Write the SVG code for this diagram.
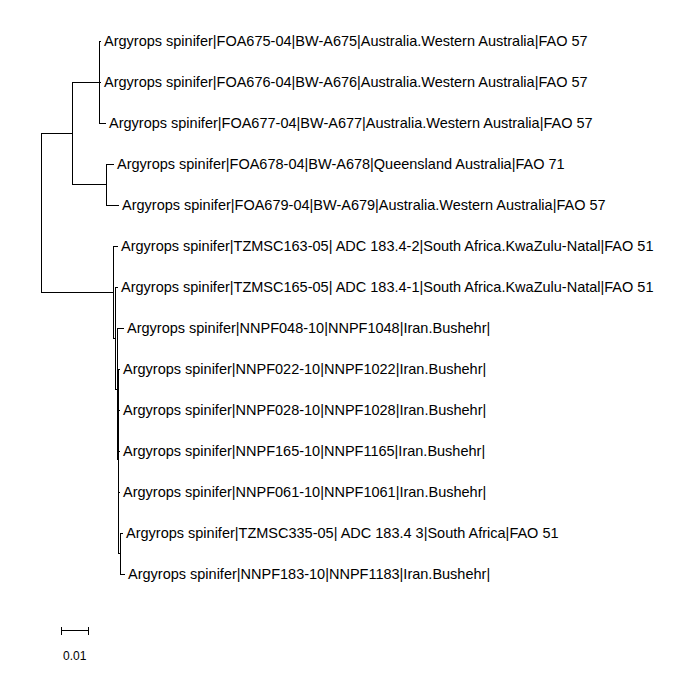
<svg xmlns="http://www.w3.org/2000/svg" width="692" height="696" viewBox="0 0 692 696">
<style>
.t{font-family:"Liberation Sans",Arial,sans-serif;font-size:14.5px;fill:#000}
.s{font-family:"Liberation Sans",Arial,sans-serif;font-size:12px;fill:#000}
.e{stroke:#000;stroke-width:1;fill:none}
</style>
<rect width="692" height="696" fill="#fff"/>
<g id="connectors" class="e">
<path d="M41.5,133.5V292.5M41,133.5H72M41,292.5H113"/>
<path d="M72.5,82.5V184.5M72,82.5H99M72,184.5H106"/>
<path d="M99.5,41.5V123.5M99,41.5H101M99,82.5H101M99,123.5H106"/>
<path d="M106.5,164.5V205.5M106,164.5H114M106,205.5H119"/>
<path d="M113.5,246.5V338.5M113,246.5H118M113,338.5H115"/>
<path d="M115.5,287.5V389.5M115,287.5H118M115,389.5H117"/>
<path d="M117.5,328.5V450.5M117,328.5H124M117,450.5H118"/>
<path d="M118.5,369.5V553.5M118,369.5H120M118,410.5H120M118,451.5H120M118,492.5H120M118,553.5H120"/>
<path d="M117.5,369V460"/>
<path d="M120.5,533.5V574.5M120,533.5H123M120,574.5H125"/>
</g>
<g id="leaf1"><text class="t" x="104" y="46">Argyrops spinifer|FOA675-04|BW-A675|Australia.Western Australia|FAO 57</text></g>
<g id="leaf2"><text class="t" x="104" y="87">Argyrops spinifer|FOA676-04|BW-A676|Australia.Western Australia|FAO 57</text></g>
<g id="leaf3"><text class="t" x="109" y="128">Argyrops spinifer|FOA677-04|BW-A677|Australia.Western Australia|FAO 57</text></g>
<g id="leaf4"><text class="t" x="117" y="169">Argyrops spinifer|FOA678-04|BW-A678|Queensland Australia|FAO 71</text></g>
<g id="leaf5"><text class="t" x="122" y="210">Argyrops spinifer|FOA679-04|BW-A679|Australia.Western Australia|FAO 57</text></g>
<g id="leaf6"><text class="t" x="121" y="251">Argyrops spinifer|TZMSC163-05| ADC 183.4-2|South Africa.KwaZulu-Natal|FAO 51</text></g>
<g id="leaf7"><text class="t" x="121" y="292">Argyrops spinifer|TZMSC165-05| ADC 183.4-1|South Africa.KwaZulu-Natal|FAO 51</text></g>
<g id="leaf8"><text class="t" x="127" y="333">Argyrops spinifer|NNPF048-10|NNPF1048|Iran.Bushehr|</text></g>
<g id="leaf9"><text class="t" x="123" y="374">Argyrops spinifer|NNPF022-10|NNPF1022|Iran.Bushehr|</text></g>
<g id="leaf10"><text class="t" x="123" y="415">Argyrops spinifer|NNPF028-10|NNPF1028|Iran.Bushehr|</text></g>
<g id="leaf11"><text class="t" x="123" y="456">Argyrops spinifer|NNPF165-10|NNPF1165|Iran.Bushehr|</text></g>
<g id="leaf12"><text class="t" x="123" y="497">Argyrops spinifer|NNPF061-10|NNPF1061|Iran.Bushehr|</text></g>
<g id="leaf13"><text class="t" x="126" y="538">Argyrops spinifer|TZMSC335-05| ADC 183.4 3|South Africa|FAO 51</text></g>
<g id="leaf14"><text class="t" x="128" y="579">Argyrops spinifer|NNPF183-10|NNPF1183|Iran.Bushehr|</text></g>
<g id="scalebar">
<path class="e" d="M61,630.5H89M61.5,627V635M88.5,627V635"/>
<text class="s" x="63" y="660">0.01</text>
</g>
</svg>
